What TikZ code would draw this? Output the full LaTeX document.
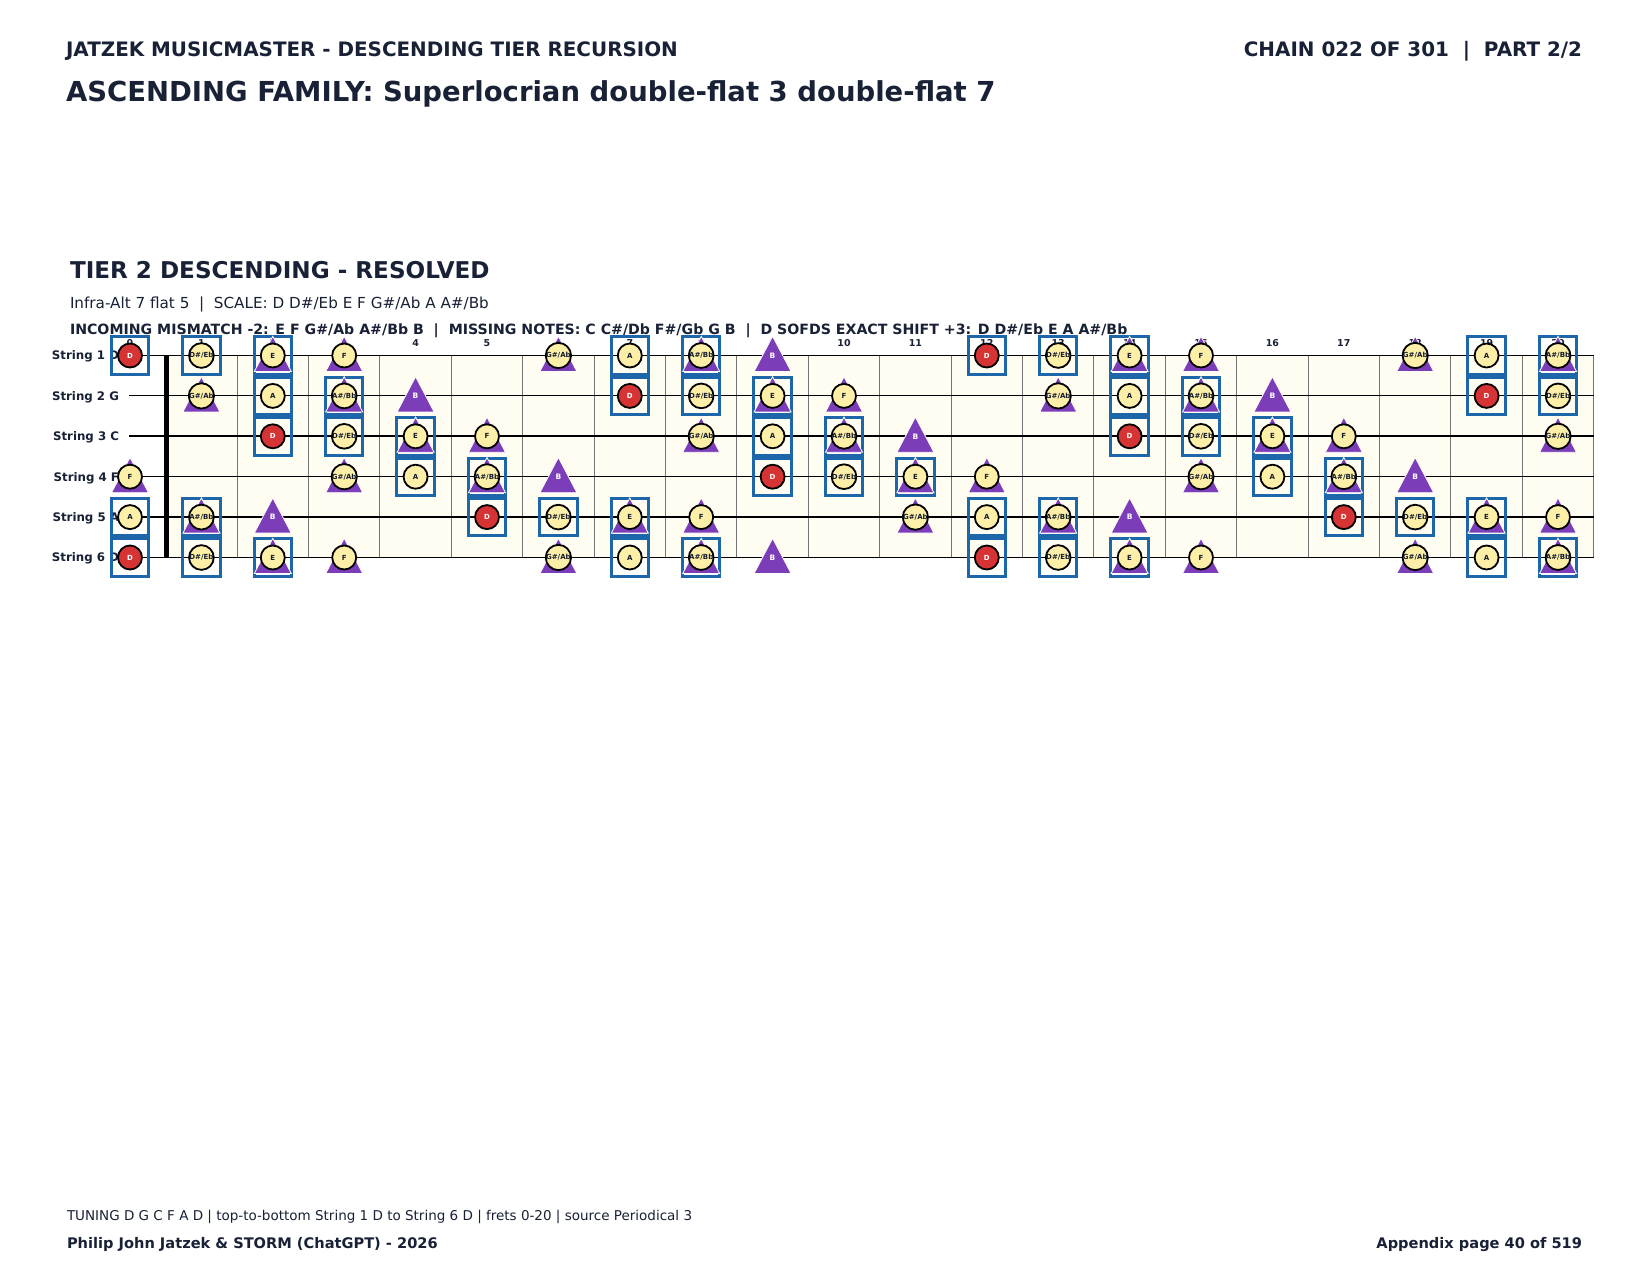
\documentclass[tikz,border=0pt]{standalone}
\usepackage{fontspec}
\setmainfont{DejaVu Sans}
\definecolor{ink}{RGB}{24,33,54}
\definecolor{notered}{RGB}{214,52,52}
\definecolor{noteyel}{RGB}{253,238,168}
\definecolor{tripurp}{RGB}{124,62,184}
\definecolor{boxblue}{RGB}{30,102,170}
\definecolor{board}{RGB}{255,253,242}
\definecolor{fretgray}{RGB}{115,115,120}
\tikzset{
  txt/.style={inner sep=0pt, outer sep=0pt, text=ink},
  boxmark/.style={rectangle, draw=boxblue, line width=3pt, minimum size=37.4pt, inner sep=0pt},
  notecirc/.style={circle, draw=black, line width=1.8pt, fill=noteyel, minimum size=24pt, inner sep=0pt,
    font=\fontsize{7}{8}\selectfont\bfseries, text=ink!85!black},
  rootcirc/.style={notecirc, fill=notered, text=white},
  trimark/.style={fill=tripurp, draw=white, line width=0.8pt},
  blabel/.style={inner sep=0pt, font=\fontsize{7.5}{8}\selectfont\bfseries, text=white},
}
\begin{document}
\begin{tikzpicture}[x=1pt,y=-1pt]
\useasboundingbox (0,0) rectangle (1650,1275);
\fill[white] (0,0) rectangle (1650,1275);

% header
\node[txt, anchor=base west, font=\fontsize{19.9}{24}\selectfont\bfseries] (hdrleft) at (66,56.7) {JATZEK MUSICMASTER - DESCENDING TIER RECURSION};
\node[txt, anchor=base east, font=\fontsize{19.9}{24}\selectfont\bfseries] (hdrright) at (1582,56.7) {CHAIN 022 OF 301 \ | \ PART 2/2};
\node[txt, anchor=base west, font=\fontsize{27.5}{32}\selectfont\bfseries] (title) at (66,101.7) {ASCENDING FAMILY: Superlocrian double-flat 3 double-flat 7};

% tier block
\node[txt, anchor=base west, font=\fontsize{23.1}{27}\selectfont\bfseries] (tier) at (70,278) {TIER 2 DESCENDING - RESOLVED};
\node[txt, anchor=base west, font=\fontsize{15.2}{18}\selectfont] (scale) at (70,308.3) {Infra-Alt 7 flat 5 \ | \ SCALE: D D\#/Eb E F G\#/Ab A A\#/Bb};
\node[txt, anchor=base west, font=\fontsize{14.15}{16}\selectfont\bfseries] (mismatch) at (70,334.5) {INCOMING MISMATCH -2: E F G\#/Ab A\#/Bb B \ | \ MISSING NOTES: C C\#/Db F\#/Gb G B \ | \ D SOFDS EXACT SHIFT +3: D D\#/Eb E A A\#/Bb};

% fretboard
\fill[board] (165.7,355.5) rectangle (1593.7,557.5);
\foreach \k in {1,...,20} {
  \draw[fretgray, line width=1pt] ({165.7+71.4*\k},355.5) -- ({165.7+71.4*\k},557.5);
}
\foreach \s/\w in {1/1.1,2/1.1,3/2.3,4/1.1,5/2.3,6/1.1} {
  \draw[black, line width=\w pt] (129,{355.5+40.4*(\s-1)}) -- (1593.7,{355.5+40.4*(\s-1)});
}
\draw[black, line width=5.3pt] (166.2,355.5) -- (166.2,557.7);

% string labels
\foreach \s/\lab in {1/String 1 D,2/String 2 G,3/String 3 C,4/String 4 F,5/String 5 A,6/String 6 D} {
  \node[txt, anchor=base east, font=\fontsize{11.8}{14}\selectfont\bfseries] (slabel\s) at (119,{355.5+40.4*(\s-1)+4.3}) {\lab};
}
% fret numbers
\foreach \f in {0,...,20} {
  \node[txt, anchor=base, font=\fontsize{9.5}{11}\selectfont\bfseries] (fnum\f) at ({130+71.4*\f},346.8) {\f};
}

% note markers
\foreach \s/\t in {1/2,2/7,3/0,4/5,5/9,6/2} {
  \foreach \f in {0,...,20} {
    \pgfmathtruncatemacro\n{mod(\t+\f,12)}
    \pgfmathsetmacro\x{130+71.4*\f}
    \pgfmathsetmacro\y{355.5+40.4*(\s-1)}
    \ifcase\n
    \or
    \or % D
      \node[boxmark] (box-\s-\f) at (\x,\y) {};
      \node[rootcirc] (note-\s-\f) at (\x,\y) {D};
    \or % D#/Eb
      \node[boxmark] (box-\s-\f) at (\x,\y) {};
      \node[notecirc] (note-\s-\f) at (\x,\y) {D\#/Eb};
    \or % E
      \node[boxmark] (box-\s-\f) at (\x,\y) {};
      \path[trimark] (\x-18.5,\y+16) -- (\x,\y-19.2) -- (\x+18.5,\y+16) -- cycle;
      \node[notecirc] (note-\s-\f) at (\x,\y) {E};
    \or % F
      \path[trimark] (\x-18.5,\y+16) -- (\x,\y-19.2) -- (\x+18.5,\y+16) -- cycle;
      \node[notecirc] (note-\s-\f) at (\x,\y) {F};
    \or
    \or
    \or % G#/Ab
      \path[trimark] (\x-18.5,\y+16) -- (\x,\y-19.2) -- (\x+18.5,\y+16) -- cycle;
      \node[notecirc] (note-\s-\f) at (\x,\y) {G\#/Ab};
    \or % A
      \node[boxmark] (box-\s-\f) at (\x,\y) {};
      \node[notecirc] (note-\s-\f) at (\x,\y) {A};
    \or % A#/Bb
      \node[boxmark] (box-\s-\f) at (\x,\y) {};
      \path[trimark] (\x-18.5,\y+16) -- (\x,\y-19.2) -- (\x+18.5,\y+16) -- cycle;
      \node[notecirc] (note-\s-\f) at (\x,\y) {A\#/Bb};
    \or % B
      \path[trimark] (\x-18.5,\y+16) -- (\x,\y-19.2) -- (\x+18.5,\y+16) -- cycle;
      \node[blabel] (note-\s-\f) at (\x,\y) {B};
    \fi
  }
}

% footer
\node[txt, anchor=base west, font=\fontsize{13.5}{16}\selectfont] (foot1) at (67,1220.7) {TUNING D G C F A D | top-to-bottom String 1 D to String 6 D | frets 0-20 | source Periodical 3};
\node[txt, anchor=base west, font=\fontsize{14.6}{18}\selectfont\bfseries] (foot2) at (67,1248) {Philip John Jatzek \& STORM (ChatGPT) - 2026};
\node[txt, anchor=base east, font=\fontsize{14.6}{18}\selectfont\bfseries] (foot3) at (1582,1248) {Appendix page 40 of 519};
\end{tikzpicture}
\end{document}
